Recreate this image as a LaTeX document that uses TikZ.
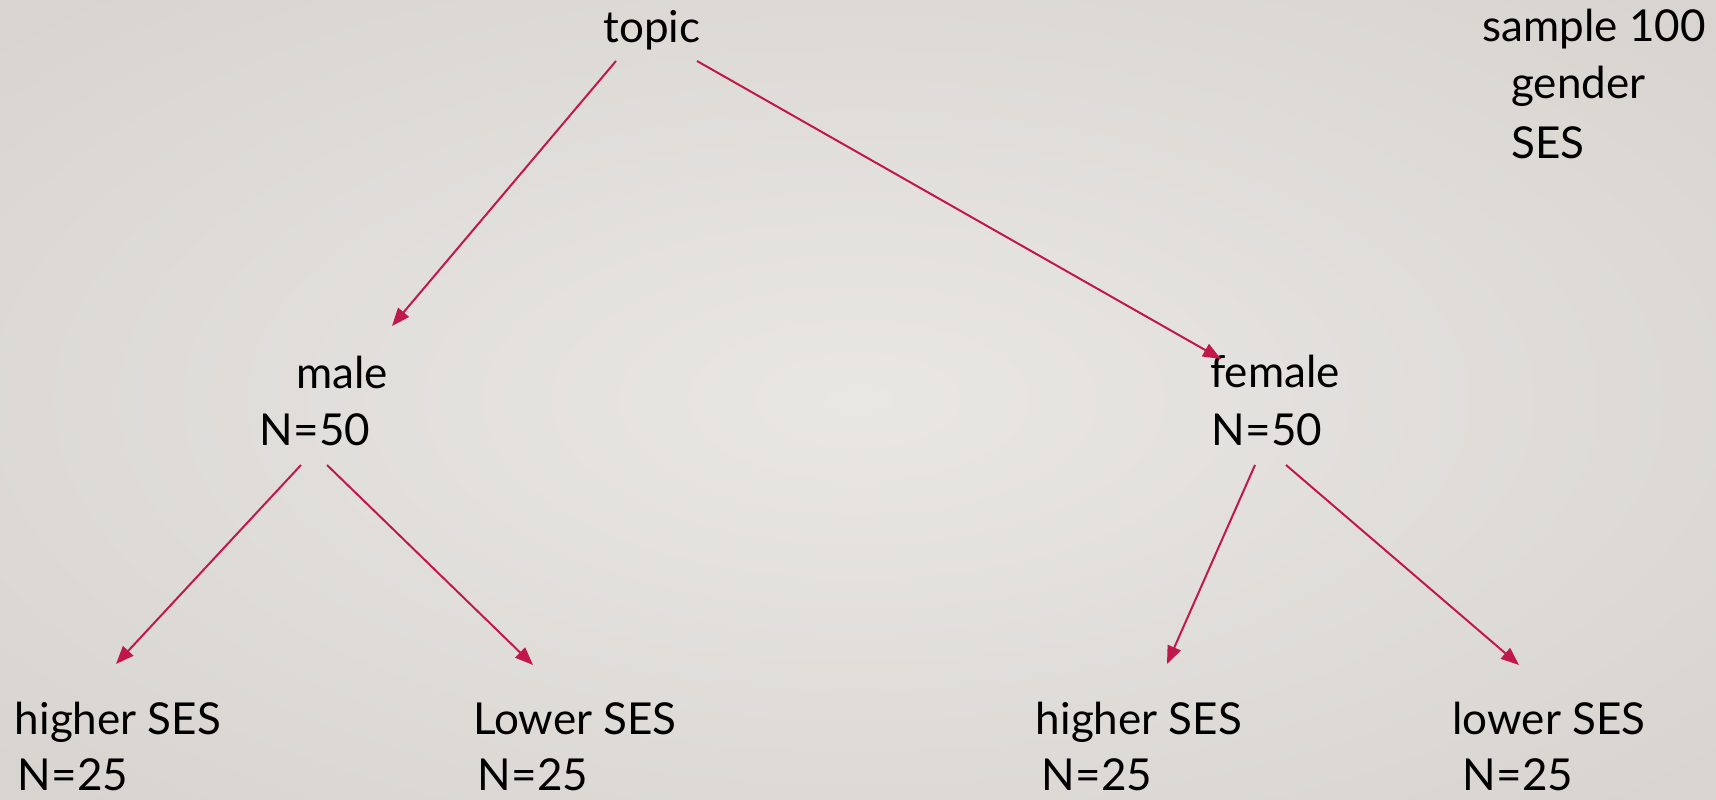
\documentclass[tikz,border=0pt]{standalone}
\usepackage{fontspec}
\setmainfont{Lato}
\usetikzlibrary{arrows.meta}
\definecolor{bgin}{HTML}{E9E7E4}
\definecolor{bgout}{HTML}{D8D5D0}
\definecolor{arr}{HTML}{C0184A}
\tikzset{
  lbl/.style={inner sep=0pt, font=\fontsize{44}{50}\selectfont, text=black},
  conn/.style={draw=arr, line width=2pt, -{Triangle[length=18pt,width=14pt]}}
}
\begin{document}
\begin{tikzpicture}[x=1pt,y=-1pt]
\useasboundingbox (0,0) rectangle (1716,800);
\shade[inner color=bgin, outer color=bgout] (-300,-150) rectangle (2016,950);
% labels
\node[lbl, anchor=base] (topic) at (652,43) {topic};
\node[lbl, anchor=base east] (sample) at (1706,42) {sample 100};
\node[lbl, anchor=base west] (gender) at (1511,98) {gender};
\node[lbl, anchor=base west] (ses) at (1511,158) {SES};
\node[lbl, anchor=base] (male) at (342,388) {male};
\node[lbl, anchor=base] (maleN) at (315,445) {N=50};
\node[lbl, anchor=base] (female) at (1275,387) {female};
\node[lbl, anchor=base] (femaleN) at (1267,445) {N=50};
\node[lbl, anchor=base] (hm) at (118,734) {higher SES};
\node[lbl, anchor=base] (hmN) at (73,790) {N=25};
\node[lbl, anchor=base] (lm) at (575,734) {Lower SES};
\node[lbl, anchor=base] (lmN) at (533,790) {N=25};
\node[lbl, anchor=base] (hf) at (1139,734) {higher SES};
\node[lbl, anchor=base] (hfN) at (1097,790) {N=25};
\node[lbl, anchor=base] (lf) at (1549,734) {lower SES};
\node[lbl, anchor=base] (lfN) at (1518,790) {N=25};
% connector end points
\coordinate (topicL) at (616,61);
\coordinate (topicR) at (697,61);
\coordinate (maleIn) at (392,326);
\coordinate (femaleIn) at (1221,359);
\coordinate (maleL) at (301,465);
\coordinate (maleR) at (327,465);
\coordinate (femaleL) at (1255,465);
\coordinate (femaleR) at (1286,465);
\coordinate (hmIn) at (116,664);
\coordinate (lmIn) at (533,665);
\coordinate (hfIn) at (1167,664);
\coordinate (lfIn) at (1519,665);
% connectors
\draw[conn] (topicL) -- (maleIn);
\draw[conn] (topicR) -- (femaleIn);
\draw[conn] (maleL) -- (hmIn);
\draw[conn] (maleR) -- (lmIn);
\draw[conn] (femaleL) -- (hfIn);
\draw[conn] (femaleR) -- (lfIn);
\end{tikzpicture}
\end{document}
